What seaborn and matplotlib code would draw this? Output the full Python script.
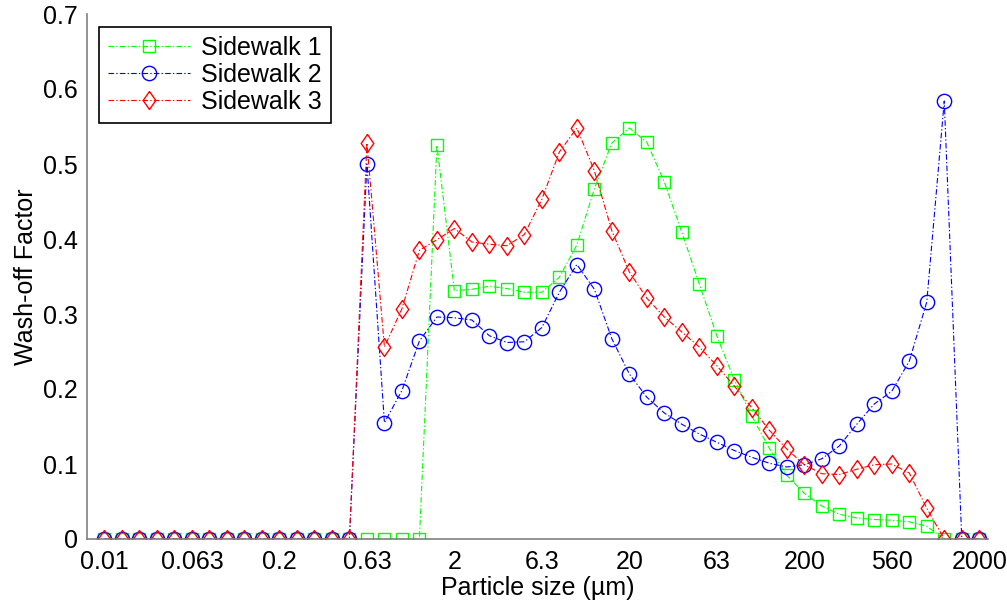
import numpy as np
import pandas as pd
import matplotlib
matplotlib.use("Agg")
import matplotlib.pyplot as plt
import seaborn as sns

# Particle size bins (log-spaced classes, plotted at equal spacing)
tick_labels = ["0.01", "0.063", "0.2", "0.63", "2", "6.3", "20", "63", "200", "560", "2000"]
n_bins = 51

sidewalk_1 = [0.0] * 15 + [
    0.0, 0.0, 0.0, 0.0, 0.525, 0.331, 0.333, 0.337, 0.334, 0.329,
    0.329, 0.349, 0.392, 0.467, 0.528, 0.548, 0.529, 0.476, 0.409, 0.340,
    0.271, 0.212, 0.164, 0.121, 0.085, 0.061, 0.044, 0.033, 0.028, 0.026,
    0.025, 0.023, 0.017, 0.0, 0.0, 0.0,
]
sidewalk_2 = [0.0] * 15 + [
    0.500, 0.155, 0.198, 0.264, 0.296, 0.295, 0.292, 0.271, 0.262, 0.263,
    0.282, 0.329, 0.366, 0.333, 0.267, 0.220, 0.189, 0.168, 0.153, 0.140,
    0.129, 0.118, 0.109, 0.101, 0.096, 0.099, 0.107, 0.124, 0.153, 0.180,
    0.197, 0.237, 0.316, 0.584, 0.0, 0.0,
]
sidewalk_3 = [0.0] * 15 + [
    0.528, 0.256, 0.307, 0.385, 0.399, 0.414, 0.396, 0.393, 0.391, 0.406,
    0.453, 0.516, 0.548, 0.491, 0.411, 0.356, 0.321, 0.296, 0.276, 0.256,
    0.231, 0.204, 0.175, 0.145, 0.120, 0.099, 0.087, 0.086, 0.093, 0.099,
    0.100, 0.088, 0.041, 0.0, 0.0, 0.0,
]

series_names = ["Sidewalk 1", "Sidewalk 2", "Sidewalk 3"]
series_values = [sidewalk_1, sidewalk_2, sidewalk_3]
series_colors = ["#00ff00", "#0000ff", "#ff0000"]

# MATLAB-style tall diamond
tall_diamond = [(0, 1), (0.7, 0), (0, -1), (-0.7, 0), (0, 1)]
series_markers = ["s", "o", tall_diamond]
marker_sizes = [8.4, 10.3, 13]

sns.set_theme(style="white")
plt.rcParams["font.family"] = ["Liberation Sans", "DejaVu Sans"]
plt.rcParams["text.color"] = "black"
plt.rcParams["axes.labelcolor"] = "black"

fig = plt.figure(figsize=(10.07, 6.08), dpi=100)
W, H = 1007, 608
left_px, right_px, top_px, bottom_px = 87, 988, 14, 539
ax = fig.add_axes([left_px / W, 1 - bottom_px / H,
                   (right_px - left_px) / W, (bottom_px - top_px) / H])

idx = np.arange(n_bins)
for name, vals, col, mk, ms in zip(series_names, series_values, series_colors,
                                   series_markers, marker_sizes):
    df = pd.DataFrame({"bin": idx, "value": vals})
    sns.lineplot(data=df, x="bin", y="value", ax=ax, color=col, label=name,
                 marker=mk, markersize=ms, markerfacecolor="none",
                 markeredgecolor=col, markeredgewidth=1.0,
                 linewidth=0.8, dashes=(5, 2, 1.2, 2), sort=False)

ax.set_xlim(-1, 50.5)
ax.set_ylim(0, 0.7)
ax.set_xticks(np.arange(0, n_bins, 5))
ax.set_xticklabels(tick_labels)
ax.set_yticks(np.arange(0, 0.71, 0.1))
ax.set_yticklabels(["0", "0.1", "0.2", "0.3", "0.4", "0.5", "0.6", "0.7"])

ax.set_xlabel("Particle size (\u00b5m)", fontsize=18, labelpad=1, color="black")
ax.set_ylabel("Wash-off Factor", fontsize=18, labelpad=4, color="black")

for side in ["top", "right"]:
    ax.spines[side].set_visible(False)
for side in ["left", "bottom"]:
    ax.spines[side].set_color("#808080")
    ax.spines[side].set_linewidth(1.2)

ax.tick_params(axis="both", direction="in", length=6.5, width=0.9,
               colors="#333333", labelcolor="black", labelsize=18, pad=6.5)
ax.tick_params(axis="x", pad=8)
ax.grid(False)

leg = ax.legend(loc="upper left", bbox_to_anchor=(0.0133, 0.975),
                borderaxespad=0, fontsize=18, frameon=True, fancybox=False,
                edgecolor="black", handlelength=3.3, handletextpad=0.45,
                labelspacing=0.12, borderpad=0.35)
leg.get_frame().set_linewidth(1.2)
leg.get_frame().set_alpha(1)
for t in leg.get_texts():
    t.set_color("black")

fig.savefig("out.png", dpi=100, facecolor="white")
